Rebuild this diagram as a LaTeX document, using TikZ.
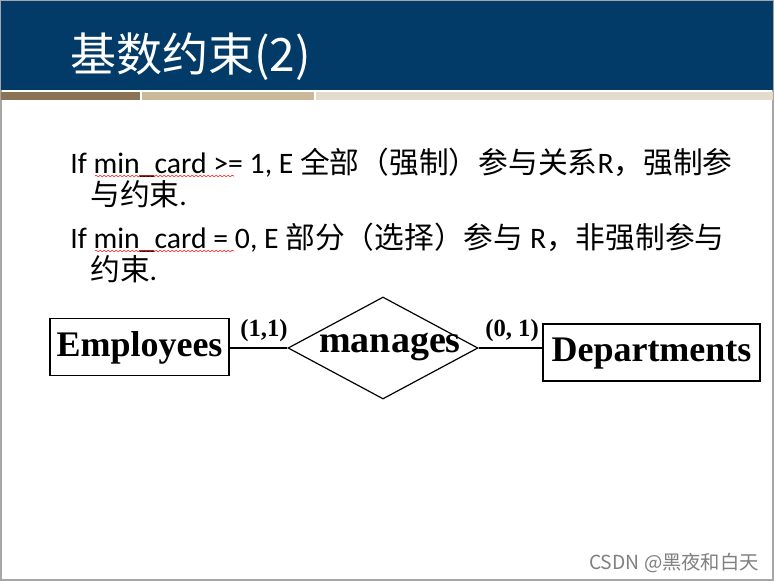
\documentclass[tikz,border=0pt]{standalone}
\usepackage{fontspec}
\setmainfont{Liberation Serif}
\newfontfamily\body{Carlito}
\newfontfamily\cjk{Noto Sans CJK SC}
\usetikzlibrary{shapes.geometric,decorations.pathmorphing}
\definecolor{band}{HTML}{023A68}
\definecolor{s1}{HTML}{8A7356}
\definecolor{s2}{HTML}{C9B99B}
\definecolor{s3}{HTML}{E3DCCD}
\tikzset{ent/.style={draw,line width=0.9pt,font=\bfseries\fontsize{27}{31}\selectfont,inner sep=0pt,text height=18pt,text depth=4pt},
card/.style={font=\bfseries\fontsize{18.5}{21}\selectfont},
txt/.style={anchor=west,font=\body\fontsize{22.3}{26}\selectfont,inner sep=0pt},
conn/.style={line width=0.9pt}}
\begin{document}
\begin{tikzpicture}[x=0.75pt,y=-0.75pt]
\useasboundingbox (0,0) rectangle (775,582);
\fill[white] (0,0) rectangle (775,582);
\draw[gray!70,line width=0.8pt] (1,1) rectangle (773,580);
\fill[band] (1,1) rectangle (773,90);
\fill[s1] (1,92) rectangle (140,100);
\fill[s2] (142,92) rectangle (314,100);
\fill[s3] (316,92) rectangle (773,100);
\node[anchor=west,text=white,font=\cjk\fontsize{34.5}{40}\selectfont,inner sep=0pt] (title) at (70,57) {基数约束(2)};
\node[txt] (l1) at (70,163) {If min\_card >= 1, E {\cjk 全部（强制）参与关系}R{\cjk ，强制参}};
\node[txt] (l2) at (90,194) {{\cjk 与约束}.};
\node[txt] (l3) at (70,238) {If min\_card = 0, E {\cjk 部分（选择）参与} R{\cjk ，非强制参与}};
\node[txt] (l4) at (90,269) {{\cjk 约束}.};
\draw[red,decorate,decoration={snake,amplitude=0.6pt,segment length=3pt}] (95,176)--(234,176);
\draw[red,decorate,decoration={snake,amplitude=0.6pt,segment length=3pt}] (95,251)--(234,251);
\node[ent,minimum width=179*0.75pt,minimum height=57*0.75pt] (emp) at (139.5,347) {Employees};
\node[ent,minimum width=217*0.75pt,minimum height=57*0.75pt] (dep) at (651.5,352.5) {Departments};
\node[draw,line width=0.9pt,diamond,aspect=1.9,minimum width=190*0.75pt,minimum height=102*0.75pt,inner sep=0pt] (rel) at (383,348) {};
\node[font=\bfseries\fontsize{28.5}{33}\selectfont] (lab) at (390,347) {manages};
\draw[conn] (emp.east |- rel.west) -- (rel.west);
\draw[conn] (rel.east) -- (rel.east -| dep.west);
\node[card] (c1) at (264,331) {(1,1)};
\node[card] (c2) at (512,331) {(0, 1)};
\node[text=gray,font=\cjk\fontsize{14.5}{17}\selectfont] (wm) at (674,563) {CSDN @黑夜和白天};
\end{tikzpicture}
\end{document}
